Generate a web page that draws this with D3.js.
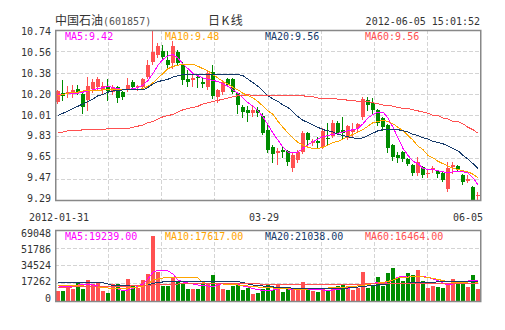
<!DOCTYPE html>
<html><head><meta charset="utf-8">
<script src="https://cdn.jsdelivr.net/npm/d3@7"></script>
<style>
html,body{margin:0;padding:0;background:#fff;}
svg{display:block;}
text{font-family:"DejaVu Sans Mono",monospace;font-size:10px;}
</style></head><body>
<svg id="chart" width="505" height="330"></svg>
<script>
// ---------- data ----------
const title = "中国石油";
const code = "(601857)";
const kType = "日K线";
const stamp = "2012-06-05 15:01:52";
const dateLabels = [{i:0,t:"2012-01-31"},{i:41,t:"03-29"},{i:84,t:"06-05"}];
const priceTicks = ["10.74","10.56","10.38","10.20","10.01","9.83","9.65","9.47","9.29"];
const volTicks = ["69048","51786","34524","17262","0"];
const priceMaLabels = ["MA5:9.42","MA10:9.48","MA20:9.56","MA60:9.56"];
const volMaLabels = ["MA5:19239.00","MA10:17617.00","MA20:21038.00","MA60:16464.00"];
const priceMin = 9.29, priceMax = 10.74, volMax = 69048;

const opens = [10.13,10.20,10.19,10.21,10.24,10.19,10.14,10.24,10.25,10.23,
10.26,10.21,10.25,10.21,10.24,10.30,10.25,10.25,10.34,10.47,
10.53,10.56,10.48,10.46,10.55,10.44,10.32,10.31,10.34,10.30,
10.25,10.38,10.17,10.21,10.32,10.32,10.20,10.08,10.06,10.03,
10.06,10.01,9.89,9.74,9.69,9.72,9.71,9.56,9.63,9.70,
9.86,9.78,9.79,9.74,9.82,9.84,9.95,9.89,9.82,9.87,
9.90,10.00,10.14,10.12,10.06,9.99,9.93,9.76,9.67,9.70,
9.64,9.59,9.52,9.57,9.51,9.55,9.54,9.52,9.38,9.57,
9.58,9.50,9.45,9.40,9.32];
const highs = [10.23,10.31,10.26,10.27,10.27,10.20,10.34,10.32,10.34,10.30,
10.32,10.27,10.26,10.22,10.33,10.31,10.27,10.33,10.48,10.74,
10.63,10.61,10.56,10.65,10.57,10.47,10.40,10.36,10.36,10.34,
10.40,10.44,10.24,10.31,10.33,10.33,10.21,10.10,10.09,10.09,
10.08,10.03,9.93,9.76,9.73,9.74,9.72,9.69,9.72,9.88,
9.87,9.81,9.83,9.90,9.95,9.97,9.96,10.00,9.93,9.95,
9.95,10.17,10.17,10.16,10.07,10.00,9.94,9.77,9.70,9.71,
9.65,9.60,9.66,9.58,9.55,9.58,9.55,9.53,9.61,9.61,
9.59,9.51,9.50,9.41,9.36];
const lows = [10.12,10.14,10.17,10.17,10.19,10.03,10.06,10.21,10.24,10.20,
10.14,10.19,10.13,10.15,10.22,10.24,10.23,10.24,10.33,10.45,
10.51,10.49,10.42,10.42,10.44,10.28,10.26,10.26,10.25,10.25,
10.24,10.16,10.13,10.19,10.26,10.20,10.03,10.00,9.96,10.01,
10.01,9.85,9.70,9.61,9.60,9.66,9.59,9.54,9.61,9.69,
9.76,9.76,9.74,9.73,9.76,9.83,9.85,9.82,9.81,9.84,
9.88,9.98,10.06,10.03,9.93,9.89,9.70,9.63,9.61,9.62,
9.59,9.50,9.50,9.49,9.49,9.53,9.49,9.45,9.37,9.52,
9.54,9.43,9.44,9.29,9.29];
const closes = [10.22,10.18,10.21,10.23,10.21,10.08,10.26,10.30,10.32,10.26,
10.22,10.25,10.16,10.17,10.27,10.25,10.26,10.32,10.44,10.55,
10.60,10.51,10.44,10.60,10.46,10.31,10.30,10.33,10.33,10.28,
10.37,10.18,10.23,10.30,10.27,10.21,10.10,10.04,10.03,10.06,
10.03,9.86,9.72,9.68,9.71,9.70,9.61,9.67,9.70,9.86,
9.80,9.79,9.78,9.88,9.81,9.95,9.86,9.86,9.92,9.89,
9.94,10.15,10.10,10.06,9.95,9.91,9.73,9.66,9.65,9.64,
9.60,9.52,9.61,9.50,9.52,9.56,9.51,9.46,9.56,9.59,
9.55,9.44,9.47,9.29,9.33];
const volumes = [9800,9800,12100,11500,17000,11500,20200,16300,17000,9800,
7200,16300,16300,9500,21200,14000,12000,20200,26000,63200,
28300,14700,14000,22500,19200,17000,11500,11500,11500,17700,
17000,25400,17700,11200,10500,14000,16300,10500,12800,6500,
7800,11500,15300,10500,15300,8800,11100,10500,12100,18600,
12100,9800,8800,11500,10500,11100,14700,15300,14700,10500,
12100,28300,12100,14700,22800,14700,27400,31600,21800,19200,
27400,25100,30000,19200,12100,14400,13700,12700,15300,20900,
19500,18600,13700,25100,11400];

const ma5 = [10.19,10.19,10.20,10.20,10.20,10.21,10.22,10.23,10.24,10.25,
10.26,10.25,10.24,10.23,10.23,10.24,10.25,10.27,10.31,10.37,
10.44,10.49,10.52,10.53,10.50,10.45,10.41,10.37,10.35,10.33,
10.32,10.31,10.30,10.28,10.26,10.23,10.20,10.16,10.12,10.09,
10.05,10.00,9.93,9.86,9.80,9.74,9.70,9.69,9.70,9.73,
9.76,9.79,9.81,9.83,9.84,9.85,9.86,9.87,9.88,9.89,
9.90,9.94,9.99,10.02,10.04,10.04,9.99,9.91,9.82,9.73,
9.67,9.62,9.60,9.56,9.55,9.55,9.54,9.53,9.52,9.53,
9.53,9.53,9.52,9.48,9.42];
const ma10 = [10.18,10.19,10.20,10.21,10.21,10.22,10.22,10.22,10.22,10.23,
10.23,10.23,10.23,10.23,10.23,10.23,10.23,10.24,10.26,10.29,
10.33,10.37,10.41,10.43,10.44,10.45,10.45,10.45,10.43,10.41,
10.39,10.36,10.33,10.30,10.28,10.25,10.23,10.20,10.18,10.16,
10.13,10.09,10.05,10.02,9.96,9.91,9.86,9.82,9.78,9.76,
9.74,9.73,9.73,9.74,9.76,9.78,9.79,9.81,9.83,9.85,
9.87,9.89,9.92,9.95,9.96,9.97,9.96,9.94,9.91,9.88,
9.84,9.80,9.75,9.72,9.67,9.65,9.62,9.60,9.58,9.56,
9.55,9.54,9.53,9.51,9.48];
const ma20 = [10.01,10.03,10.05,10.07,10.09,10.11,10.13,10.15,10.18,10.19,
10.21,10.22,10.22,10.23,10.23,10.23,10.23,10.23,10.25,10.28,
10.30,10.31,10.32,10.34,10.35,10.36,10.36,10.36,10.36,10.36,
10.36,10.36,10.36,10.36,10.36,10.36,10.36,10.35,10.32,10.29,
10.26,10.22,10.18,10.15,10.13,10.10,10.08,10.04,10.00,9.97,
9.95,9.93,9.91,9.89,9.88,9.87,9.85,9.84,9.83,9.82,
9.81,9.82,9.84,9.86,9.88,9.89,9.89,9.89,9.89,9.88,
9.87,9.85,9.84,9.82,9.81,9.79,9.78,9.77,9.75,9.73,
9.71,9.67,9.64,9.60,9.56];
const ma60 = [9.87,9.87,9.88,9.88,9.88,9.89,9.89,9.89,9.89,9.89,
9.90,9.90,9.90,9.90,9.90,9.91,9.92,9.93,9.95,9.96,
9.98,10.00,10.01,10.02,10.04,10.06,10.07,10.08,10.09,10.11,
10.12,10.13,10.14,10.15,10.16,10.17,10.18,10.18,10.19,10.18,
10.18,10.18,10.18,10.18,10.18,10.18,10.18,10.18,10.18,10.18,
10.17,10.17,10.16,10.16,10.16,10.16,10.15,10.15,10.14,10.14,
10.13,10.13,10.13,10.12,10.11,10.10,10.10,10.09,10.08,10.07,
10.07,10.06,10.05,10.04,10.03,10.01,10.01,9.99,9.98,9.96,
9.96,9.94,9.91,9.89,9.86];
const volMa5 = [14400,14000,13900,14400,15300,15800,16300,15300,14400,13400,
12400,11900,11400,10000,10400,11900,14400,16300,21200,28000,
29500,30000,29000,26100,20200,18300,17300,16300,15300,14800,
14400,13900,15300,16800,17000,17000,15800,14400,13400,11900,
10900,10000,9800,10400,11400,11900,11400,10900,10900,10400,
10900,11100,10900,10400,10400,10400,10900,11900,12100,12900,
13400,14800,16300,17000,17800,18000,18300,20200,23100,23400,
23100,23600,24100,23800,22700,21200,19700,17300,15300,16300,
18300,18800,19200,19500,19239];
const volMa10 = [15300,15100,14900,14700,14600,14400,14100,13800,13400,12900,
12400,12100,12100,12100,12400,12900,13400,13900,16300,20200,
21200,22200,22500,22500,22500,22500,22500,22500,22400,17500,
16800,16900,16900,16300,16000,15800,15300,14800,14400,13700,
13400,12900,12700,12400,12100,11900,11700,11400,11400,11400,
11400,11700,11900,12100,12400,12700,12900,13200,13400,13900,
14400,15000,15800,16600,17300,18000,18800,20200,22200,22900,
23100,23300,23400,23300,22700,21900,20700,19700,18600,18000,
17600,17300,17300,17100,17617];
const volMa20 = [17600,17600,17600,17600,17600,17600,17600,17600,17600,17600,
16300,14800,14600,14600,14600,14600,14600,14600,15300,16800,
17800,18300,18600,18600,18600,18600,18600,18600,18600,18600,
18600,18600,18600,18600,18600,18600,18600,17800,16300,15300,
14800,14400,13900,13400,13100,12800,12500,12300,12100,12100,
12100,12100,12100,12100,12100,12100,12100,12100,12400,12900,
13400,13900,14400,14800,15300,15800,16300,16600,16900,17100,
17300,17500,17600,17800,18000,18200,18300,18500,18600,18700,
18800,18900,19000,19100,19200];
const volMa60 = [13100,13200,13300,13400,13500,13600,13600,13700,13800,13900,
14000,14100,14200,14200,14300,14400,14500,14600,14800,15400,
15700,15900,16000,16200,16300,16400,16400,16400,16400,16400,
16400,16400,16400,16400,16400,16400,16400,16400,16400,16400,
16400,16200,16200,16200,16200,16200,16200,16200,16200,16200,
16200,16200,16200,16200,16200,16200,16200,16200,16200,16200,
16200,16400,16400,16400,16400,16400,16400,16400,16400,16400,
16400,16500,16500,16500,16500,16500,16500,16500,16500,16500,
16500,16500,16500,16500,16464];

// ---------- styles ----------
const UP = "#ff5151", DOWN = "#008c00";
const maColors = ["#ff00ff", "#ffa500", "#163a6a", "#ff5050"];
const gridColor = "#d4d4d4", frameColor = "#888888", textColor = "#333";

// ---------- layout ----------
const L = 55, R = 480, PT = 30, PB = 200, VT = 230, VB = 300.7;
const svg = d3.select("#chart");
const n = closes.length;
const idx = d3.range(n);
const x = d3.scaleBand().domain(idx).range([L, R]).padding(0);
const cx = i => x(i) + 3;
const y = d3.scaleLinear().domain([priceMin, priceMax]).range([PB, PT]);
const yv = d3.scaleLinear().domain([0, volMax]).range([VB, VT]);

// grids
const gGrid = svg.append("g").attr("stroke", gridColor).attr("stroke-dasharray", "4,2").attr("shape-rendering","crispEdges");
const vx = d3.range(1, 8).map(k => Math.round(L + k * (R - L) / 8) + 0.5);
const pGridY = d3.scalePoint().domain(priceTicks).range([PT, PB]);
const vGridY = d3.scalePoint().domain(volTicks).range([VT, VB]);
gGrid.selectAll(".pv").data(vx).join("line").attr("class","pv").attr("x1", d => d).attr("x2", d => d).attr("y1", PT).attr("y2", PB);
gGrid.selectAll(".vv").data(vx).join("line").attr("class","vv").attr("x1", d => d).attr("x2", d => d).attr("y1", VT).attr("y2", VB);
gGrid.selectAll(".ph").data(priceTicks.slice(1, -1)).join("line").attr("class","ph")
  .attr("x1", L).attr("x2", R).attr("y1", d => Math.round(pGridY(d)) + 0.5).attr("y2", d => Math.round(pGridY(d)) + 0.5);
gGrid.selectAll(".vh").data(volTicks.slice(1, -1)).join("line").attr("class","vh")
  .attr("x1", L).attr("x2", R).attr("y1", d => Math.round(vGridY(d)) + 0.5).attr("y2", d => Math.round(vGridY(d)) + 0.5);

// candles
const gC = svg.append("g").attr("shape-rendering", "crispEdges");
const col = i => closes[i] >= opens[i] ? UP : DOWN;
gC.selectAll(".wick").data(idx).join("line").attr("class","wick")
  .attr("x1", i => x(i) + 2.5).attr("x2", i => x(i) + 2.5)
  .attr("y1", i => Math.round(y(highs[i]))).attr("y2", i => Math.round(y(lows[i])) + 1)
  .attr("stroke", col);
gC.selectAll(".body").data(idx).join("rect").attr("class","body")
  .attr("x", i => x(i) + 1).attr("width", 4)
  .attr("y", i => Math.round(y(Math.max(opens[i], closes[i]))))
  .attr("height", i => Math.max(1, Math.round(y(Math.min(opens[i], closes[i]))) - Math.round(y(Math.max(opens[i], closes[i])))))
  .attr("fill", col);

// volume bars
svg.append("g").attr("shape-rendering", "crispEdges").selectAll("rect").data(idx).join("rect")
  .attr("x", i => x(i) + 1).attr("width", 4)
  .attr("y", i => Math.round(yv(volumes[i])))
  .attr("height", i => Math.round(VB) - Math.round(yv(volumes[i])))
  .attr("fill", col);

// MA lines
const priceMAs = [ma5, ma10, ma20, ma60];
const volMAs = [volMa5, volMa10, volMa20, volMa60];
const lineP = d3.line().x((d, i) => cx(i)).y(d => y(d));
const lineV = d3.line().x((d, i) => cx(i)).y(d => yv(d));
priceMAs.forEach((arr, k) => svg.append("path").attr("d", lineP(arr)).attr("fill", "none")
  .attr("stroke", maColors[k]).attr("stroke-width", 1).attr("shape-rendering", "crispEdges"));
volMAs.forEach((arr, k) => svg.append("path").attr("d", lineV(arr)).attr("fill", "none")
  .attr("stroke", maColors[k]).attr("stroke-width", 1).attr("shape-rendering", "crispEdges"));

// frames
svg.append("rect").attr("x", L + 0.75).attr("y", PT + 0.5).attr("width", R - L).attr("height", PB - PT)
  .attr("fill", "none").attr("stroke", frameColor).attr("stroke-width", 1.5);
svg.append("rect").attr("x", L + 0.75).attr("y", VT + 0.5).attr("width", R - L).attr("height", Math.round(VB - VT))
  .attr("fill", "none").attr("stroke", frameColor).attr("stroke-width", 1.5);

// axis labels
const pLabY = d3.scalePoint().domain(priceTicks).range([31, 198.8]);
const vLabY = d3.scalePoint().domain(volTicks).range([233.3, 298]);
svg.append("g").selectAll("text").data(priceTicks).join("text")
  .attr("x", 51).attr("y", d => pLabY(d)).attr("dy", "0.36em").attr("text-anchor", "end").attr("fill", textColor).text(d => d);
svg.append("g").selectAll("text").data(volTicks).join("text")
  .attr("x", 51).attr("y", d => vLabY(d)).attr("dy", "0.36em").attr("text-anchor", "end").attr("fill", textColor).text(d => d);

// date labels
svg.append("g").selectAll("text").data(dateLabels).join("text")
  .attr("x", d => Math.min(cx(d.i) + 1, 483 - d.t.length * 3))
  .attr("y", 220.5).attr("text-anchor", "middle").attr("fill", textColor).text(d => d.t);

// MA legends
svg.append("g").selectAll("text").data(priceMaLabels).join("text")
  .attr("x", (d, k) => 65 + k * 100).attr("y", 40).attr("fill", (d, k) => maColors[k]).text(d => d);
svg.append("g").selectAll("text").data(volMaLabels).join("text")
  .attr("x", (d, k) => 65 + k * 100).attr("y", 240).attr("fill", (d, k) => maColors[k]).text(d => d);

// title
const t = svg.append("text").attr("x", 55).attr("y", 25).attr("fill", textColor);
t.append("tspan").style("font-family", "'Noto Sans CJK SC'").style("font-size", "12px").text(title);
t.append("tspan").attr("fill", "#555").text(code);
svg.append("text").attr("x", 208).attr("y", 25).attr("fill", textColor)
  .style("font-family", "'Noto Sans CJK SC'").style("font-size", "12px").style("letter-spacing", "1.5px").text(kType);
svg.append("text").attr("x", 480).attr("y", 25).attr("text-anchor", "end").attr("fill", textColor).text(stamp);
</script>
</body></html>
